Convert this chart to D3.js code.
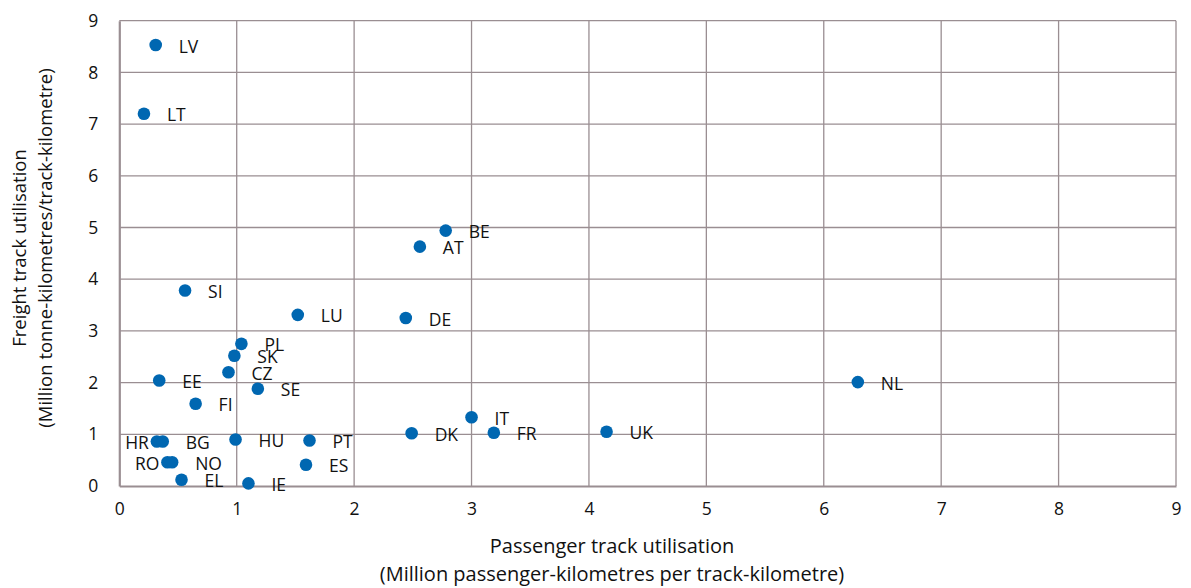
<!DOCTYPE html>
<html>
<head>
<meta charset="utf-8">
<script src="https://cdn.jsdelivr.net/npm/d3@7"></script>
<style>
  html, body { margin: 0; padding: 0; background: #fff; }
  svg text { font-family: "Open Sans", "Noto Sans", sans-serif; fill: #111; }
</style>
</head>
<body>
<svg id="chart" width="1191" height="588"></svg>
<script>
const countries = ["LV","LT","BE","AT","SI","LU","DE","PL","SK","CZ","EE","SE","FI","HR","BG","HU","PT","RO","NO","ES","EL","IE","DK","IT","FR","UK","NL"];
const passenger = [0.31,0.21,2.78,2.56,0.56,1.52,2.44,1.04,0.98,0.93,0.34,1.18,0.65,0.32,0.37,0.99,1.62,0.41,0.45,1.59,0.53,1.10,2.49,3.00,3.19,4.15,6.29];
const freight   = [8.53,7.20,4.94,4.63,3.78,3.31,3.25,2.75,2.52,2.20,2.04,1.88,1.59,0.86,0.86,0.90,0.88,0.46,0.46,0.41,0.12,0.05,1.02,1.33,1.03,1.05,2.01];
const labelLeft = ["HR","RO"];
const xTicks = [0,1,2,3,4,5,6,7,8,9];
const yTicks = [0,1,2,3,4,5,6,7,8,9];
const xTitle = ["Passenger track utilisation", "(Million passenger-kilometres per track-kilometre)"];
const yTitle = ["Freight track utilisation", "(Million tonne-kilometres/track-kilometre)"];

const svg = d3.select("#chart");
const mLeft = 119.3, mRight = 1176, mTop = 20.7, mBottom = 486;
const x = d3.scaleLinear().domain([0, 9]).range([mLeft, mRight]);
const y = d3.scaleLinear().domain([0, 9]).range([mBottom, mTop]);
const gridColor = "#9a8e92";

// gridlines
const grid = svg.append("g");
grid.selectAll("line.v").data(xTicks.slice(1)).join("line")
  .attr("class", "v")
  .attr("x1", d => x(d)).attr("x2", d => x(d))
  .attr("y1", mTop).attr("y2", mBottom)
  .attr("stroke", gridColor).attr("stroke-width", 1.3);
grid.selectAll("line.h").data(yTicks.slice(1)).join("line")
  .attr("class", "h")
  .attr("x1", mLeft).attr("x2", mRight)
  .attr("y1", d => y(d)).attr("y2", d => y(d))
  .attr("stroke", gridColor).attr("stroke-width", 1.3);

// axes
const xAxis = svg.append("g").attr("transform", `translate(0,${mBottom})`)
  .call(d3.axisBottom(x).tickValues(xTicks).tickSize(0).tickPadding(17).tickFormat(d3.format("d")));
const yAxis = svg.append("g").attr("transform", `translate(${mLeft},0)`)
  .call(d3.axisLeft(y).tickValues(yTicks).tickSize(0).tickPadding(21).tickFormat(d3.format("d")));
[xAxis, yAxis].forEach(g => {
  g.select(".domain").attr("stroke", gridColor).attr("stroke-width", 2.2);
  g.selectAll("text").attr("font-size", 17.5).attr("fill", "#111")
    .style("font-family", '"Open Sans", sans-serif');
});

// points
const data = countries.map((c, i) => ({ c, px: passenger[i], fy: freight[i] }));
svg.append("g").selectAll("circle").data(data).join("circle")
  .attr("cx", d => x(d.px)).attr("cy", d => y(d.fy)).attr("r", 6.3)
  .attr("fill", "#0067b1");

// labels
svg.append("g").selectAll("text").data(data).join("text")
  .attr("x", d => labelLeft.includes(d.c) ? x(d.px) - 8 : x(d.px) + 23)
  .attr("y", d => y(d.fy) + 1.5)
  .attr("dy", "0.35em")
  .attr("text-anchor", d => labelLeft.includes(d.c) ? "end" : "start")
  .attr("font-size", 17.5)
  .text(d => d.c);

// axis titles
svg.append("g").selectAll("text").data(xTitle).join("text")
  .attr("x", 612).attr("y", (d, i) => 546 + i * 28).attr("dy", "0.35em")
  .attr("text-anchor", "middle").attr("font-size", 20).text(d => d);
svg.append("g").selectAll("text").data(yTitle).join("text")
  .attr("transform", (d, i) => `translate(${20 + i * 26},248) rotate(-90)`)
  .attr("dy", "0.35em")
  .attr("text-anchor", "middle").attr("font-size", 18.5).text(d => d);
</script>
</body>
</html>
